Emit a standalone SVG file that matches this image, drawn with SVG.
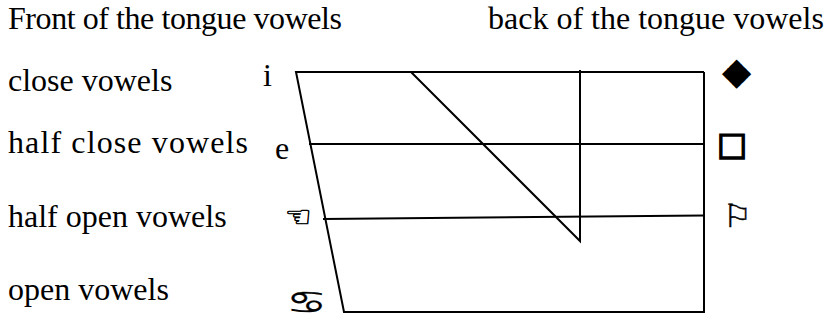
<svg xmlns="http://www.w3.org/2000/svg" width="827" height="327" viewBox="0 0 827 327">
<style>
.t{font-family:"Liberation Serif","Times New Roman",serif;font-size:32px;fill:#000}
.s{font-family:"DejaVu Sans",sans-serif;fill:#000}
.ln{stroke:#000;stroke-width:2;fill:none}
</style>
<rect width="827" height="327" fill="#fff"/>
<g id="labels">
<text class="t" x="8" y="29" textLength="334">Front of the tongue vowels</text>
<text class="t" x="488" y="29">back of the tongue vowels</text>
<text class="t" x="8" y="91">close vowels</text>
<text class="t" x="8" y="153" textLength="240">half close vowels</text>
<text class="t" x="8" y="227">half open vowels</text>
<text class="t" x="8" y="300">open vowels</text>
</g>
<g id="symbols">
<text class="t" x="263" y="86">i</text>
<text class="t" x="275" y="159">e</text>
<text class="s" x="285" y="227" font-size="30" stroke="#000" stroke-width="0.6">☜</text>
<text class="s" transform="translate(307,302) scale(1.45,1)" font-size="31" text-anchor="middle" dominant-baseline="central" stroke="#000" stroke-width="0.2">♋</text>
<text class="s" x="722" y="84" font-size="38">◆</text>
<text class="s" x="717" y="155" font-size="32" stroke="#000" stroke-width="1.6">□</text>
<text class="s" x="723" y="227" font-size="32" stroke="#000" stroke-width="0.5">⚐</text>
</g>
<g id="connectors">
<polyline class="ln" points="704,72 296,72 344,312 704,312 704,72"/>
<line class="ln" x1="309" y1="144" x2="704" y2="144"/>
<line class="ln" x1="323" y1="219" x2="704" y2="215.5"/>
<polyline class="ln" points="411,72 580,241 580,70"/>
</g>
</svg>
